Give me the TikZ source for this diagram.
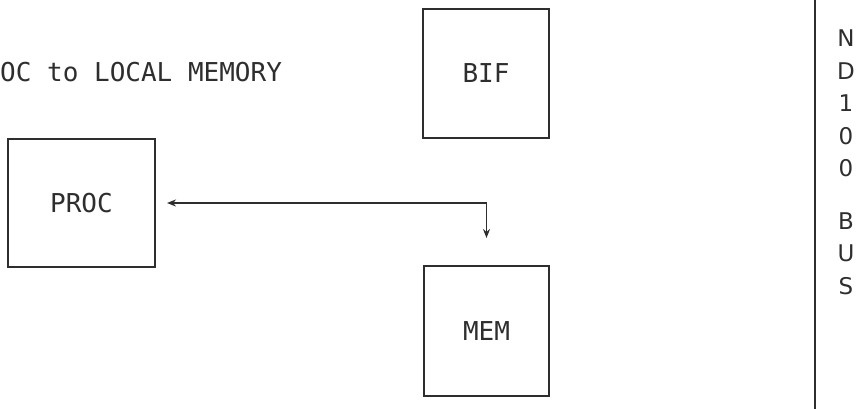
\documentclass[tikz,border=0pt]{standalone}
\usepackage{fontspec}
\setmonofont{DejaVu Sans Mono}
\newfontfamily\sidefam{DejaVu Sans}
\usetikzlibrary{arrows.meta}
\definecolor{ink}{HTML}{2E2E2E}
\begin{document}
\begin{tikzpicture}[x=1pt,y=-1pt,
  box/.style={draw=ink, line width=2pt, inner sep=0pt, text=ink,
    font=\ttfamily\fontsize{26}{30}\selectfont},
  lbl/.style={inner sep=0pt, text=ink, font=\ttfamily\fontsize{26}{30}\selectfont},
  side/.style={inner sep=0pt, text=ink, align=center,
    font=\sidefam\fontsize{23}{32.5}\selectfont},
  link/.style={draw=ink, line width=1.6pt, {Stealth[length=9pt,width=7pt]}-{Stealth[length=9pt,width=7pt]}},
  rule/.style={draw=ink, line width=2.5pt}]
\useasboundingbox (0,0) rectangle (862,409);
\node[lbl, anchor=west] (title) at (0,72) {OC to LOCAL MEMORY};
\node[box, minimum width=126pt, minimum height=129pt] (bif) at (486,73.5) {BIF};
\node[box, minimum width=147pt, minimum height=128pt] (proc) at (81.5,203) {PROC};
\node[box, minimum width=125pt, minimum height=130pt] (mem) at (486.5,331) {MEM};
\draw[link, shorten <=11pt, shorten >=27pt] (proc.east) -| (mem.north);
\coordinate (rtop) at (815,0);
\coordinate (rbot) at (815,409);
\draw[rule] (rtop) -- (rbot);
\node[side, anchor=north] (bus) at (846,30) {N\\D\\1\\0\\0\\[20pt]B\\U\\S};
\end{tikzpicture}
\end{document}
